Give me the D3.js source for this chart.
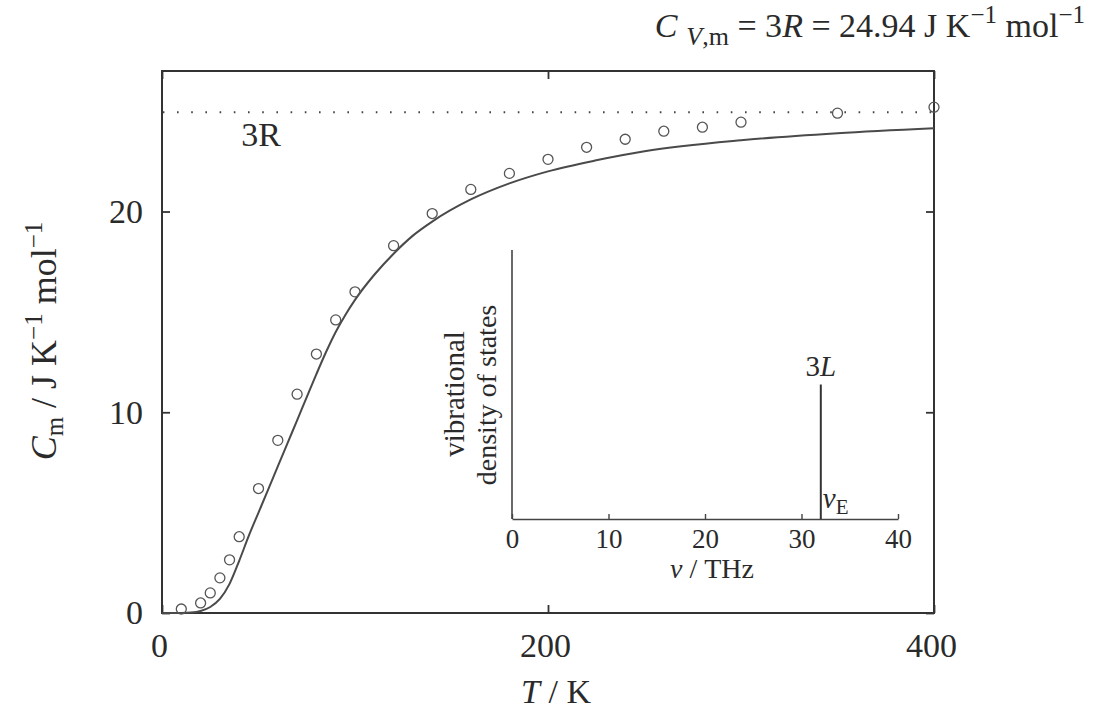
<!DOCTYPE html>
<html>
<head>
<meta charset="utf-8">
<script src="https://cdn.jsdelivr.net/npm/d3@7"></script>
<style>
  body { margin: 0; background: #fff; }
  svg { display: block; }
  text { font-family: "Liberation Serif", "Times New Roman", serif; fill: #2a2a2a; }
</style>
</head>
<body>
<svg id="chart" width="1109" height="713"></svg>
<script>
// measured heat capacity (circles), T in K and Cm in J/K/mol
var obsT = [10, 20, 25, 30, 35, 40, 50, 60, 70, 80, 90, 100, 120, 140, 160, 180, 200, 220, 240, 260, 280, 300, 350, 400];
var obsC = [0.2, 0.5, 1.0, 1.75, 2.65, 3.8, 6.2, 8.6, 10.9, 12.9, 14.6, 16.0, 18.3, 19.9, 21.1, 21.9, 22.6, 23.2, 23.6, 24.0, 24.2, 24.45, 24.9, 25.2];

// Einstein model curve (solid line)
var fitT = [0, 10, 15, 20, 25, 30, 35, 40, 45, 50, 55, 60, 65, 70, 75, 80, 85, 90, 95, 100, 110, 120, 130, 140, 160, 180, 200, 225, 250, 300, 350, 400];
var fitC = [0, 0, 0.02, 0.1, 0.3, 0.7, 1.45, 2.6, 3.85, 5.0, 6.15, 7.3, 8.45, 9.6, 10.75, 11.9, 13.0, 14.0, 14.85, 15.6, 16.85, 17.9, 18.8, 19.5, 20.6, 21.4, 22.0, 22.55, 23.0, 23.55, 23.9, 24.15];

var limit3R = 24.94;
var xTicks = [0, 200, 400];
var yTicks = [0, 10, 20];

// inset: vibrational density of states
var nuTicks = [0, 10, 20, 30, 40];
var nuE = 32;
var spikeHeight = 0.5;

// layout
var pLeft = 162, pRight = 934, pTop = 71, pBottom = 613;
var fs = 34;

var svg = d3.select('#chart');

var x = d3.scaleLinear().domain([0, 400]).range([pLeft, pRight]);
var y = d3.scaleLinear().domain([0, 27]).range([pBottom, pTop]);

// frame
svg.append('rect')
  .attr('x', pLeft).attr('y', pTop)
  .attr('width', pRight - pLeft).attr('height', pBottom - pTop)
  .style('fill', 'none').style('stroke', '#333').style('stroke-width', 2);

// axes, ticks pointing inward
function styleAxis(g, labels) {
  g.select('.domain').remove();
  g.selectAll('.tick line').style('stroke', '#333').style('stroke-width', 1.8);
  if (!labels) g.selectAll('.tick text').remove();
  else g.selectAll('.tick text')
    .style('font-family', '"Liberation Serif", serif')
    .style('font-size', fs + 'px')
    .style('fill', '#2a2a2a');
}

svg.append('g')
  .attr('transform', 'translate(0,' + pBottom + ')')
  .call(d3.axisBottom(x).tickValues(xTicks).tickSize(-8).tickPadding(20).tickFormat(d3.format('d')))
  .call(styleAxis, true)
  .selectAll('.tick text').attr('dx', -3);
svg.append('g')
  .attr('transform', 'translate(0,' + pTop + ')')
  .call(d3.axisTop(x).tickValues(xTicks).tickSize(-8))
  .call(styleAxis, false);
svg.append('g')
  .attr('transform', 'translate(' + pLeft + ',0)')
  .call(d3.axisLeft(y).tickValues(yTicks).tickSize(-8).tickPadding(19).tickFormat(d3.format('d')))
  .call(styleAxis, true);
svg.append('g')
  .attr('transform', 'translate(' + pRight + ',0)')
  .call(d3.axisRight(y).tickValues(yTicks).tickSize(-8))
  .call(styleAxis, false);

// 3R dotted line
svg.append('line')
  .attr('x1', x(0)).attr('x2', x(400))
  .attr('y1', y(limit3R)).attr('y2', y(limit3R))
  .style('stroke', '#444').style('stroke-width', 2)
  .style('stroke-dasharray', '1.6,12.6')
  .style('stroke-dashoffset', -15);

svg.append('text')
  .attr('x', x(41)).attr('y', y(23.25))
  .style('font-size', fs + 'px')
  .text('3R');

// model curve
var fit = fitT.map(function(t, i) { return [t, fitC[i]]; });
svg.append('path')
  .datum(fit)
  .attr('d', d3.line()
    .x(function(d) { return x(d[0]); })
    .y(function(d) { return y(d[1]); })
    .curve(d3.curveMonotoneX))
  .style('fill', 'none').style('stroke', '#4a4a4a').style('stroke-width', 2);

// experimental points
svg.selectAll('circle.obs')
  .data(obsT)
  .enter()
  .append('circle')
    .classed('obs', true)
    .attr('cx', function(d) { return x(d); })
    .attr('cy', function(d, i) { return y(obsC[i]); })
    .attr('r', 5)
    .style('fill', 'none').style('stroke', '#555').style('stroke-width', 1.3);

// axis titles
var xt = svg.append('text')
  .attr('x', 556).attr('y', 703)
  .attr('text-anchor', 'middle')
  .style('font-size', fs + 'px');
xt.append('tspan').style('font-style', 'italic').text('T');
xt.append('tspan').text(' / K');

var yt = svg.append('text')
  .attr('transform', 'translate(56,341) rotate(-90)')
  .attr('text-anchor', 'middle')
  .style('font-size', '36px');
yt.append('tspan').style('font-style', 'italic').text('C');
yt.append('tspan').attr('dy', 7).style('font-size', '25px').text('m');
yt.append('tspan').attr('dy', -7).text(' / J K');
yt.append('tspan').attr('dy', -14).style('font-size', '25px').text('\u22121');
yt.append('tspan').attr('dy', 14).text(' mol');
yt.append('tspan').attr('dy', -14).style('font-size', '25px').text('\u22121');

// formula at the top right
var ft = svg.append('text')
  .attr('x', 1085).attr('y', 37)
  .attr('text-anchor', 'end')
  .style('font-size', '34px');
ft.append('tspan').style('font-style', 'italic').text('C');
ft.append('tspan').attr('dx', 9).attr('dy', 8).style('font-size', '26px').style('font-style', 'italic').text('V');
ft.append('tspan').style('font-size', '26px').text(',m');
ft.append('tspan').attr('dy', -8).text(' = 3');
ft.append('tspan').style('font-style', 'italic').text('R');
ft.append('tspan').text(' = 24.94 J K');
ft.append('tspan').attr('dy', -14).style('font-size', '25px').text('\u22121');
ft.append('tspan').attr('dy', 14).text(' mol');
ft.append('tspan').attr('dy', -14).style('font-size', '25px').text('\u22121');

// inset
var nu = d3.scaleLinear().domain([0, 40]).range([512, 898]);
var dos = d3.scaleLinear().domain([0, 1]).range([519, 250]);
var ifs = 28;

svg.append('line')
  .attr('x1', nu(0)).attr('x2', nu(0))
  .attr('y1', dos(0)).attr('y2', dos(1))
  .style('stroke', '#444').style('stroke-width', 1.6);

var ix = svg.append('g')
  .attr('transform', 'translate(0,' + dos(0) + ')')
  .call(d3.axisBottom(nu).tickValues(nuTicks).tickSize(-5).tickPadding(10).tickSizeOuter(0));
ix.select('.domain').style('stroke', '#444').style('stroke-width', 1.6);
ix.selectAll('.tick line').style('stroke', '#444').style('stroke-width', 1.4);
ix.selectAll('.tick text')
  .style('font-family', '"Liberation Serif", serif')
  .style('font-size', '27px')
  .style('fill', '#2a2a2a');

svg.append('line')
  .attr('x1', nu(nuE)).attr('x2', nu(nuE))
  .attr('y1', dos(0)).attr('y2', dos(spikeHeight))
  .style('stroke', '#333').style('stroke-width', 2);

var lbl3L = svg.append('text')
  .attr('x', nu(nuE)).attr('y', dos(spikeHeight) - 9)
  .attr('text-anchor', 'middle')
  .style('font-size', '29px');
lbl3L.append('tspan').text('3');
lbl3L.append('tspan').style('font-style', 'italic').text('L');

var lblE = svg.append('text')
  .attr('x', nu(nuE) + 2).attr('y', dos(0) - 11)
  .style('font-size', '29px');
lblE.append('tspan').style('font-style', 'italic').text('\u03bd');
lblE.append('tspan').attr('dy', 6).style('font-size', '21px').text('E');

var nt = svg.append('text')
  .attr('x', 712).attr('y', 578)
  .attr('text-anchor', 'middle')
  .style('font-size', ifs + 'px');
nt.append('tspan').style('font-style', 'italic').text('\u03bd');
nt.append('tspan').text(' / THz');

svg.append('text')
  .attr('transform', 'translate(464,394) rotate(-90)')
  .attr('text-anchor', 'middle')
  .style('font-size', '29px')
  .text('vibrational');
svg.append('text')
  .attr('transform', 'translate(496,395) rotate(-90)')
  .attr('text-anchor', 'middle')
  .style('font-size', '28px')
  .text('density of states');
</script>
</body>
</html>
